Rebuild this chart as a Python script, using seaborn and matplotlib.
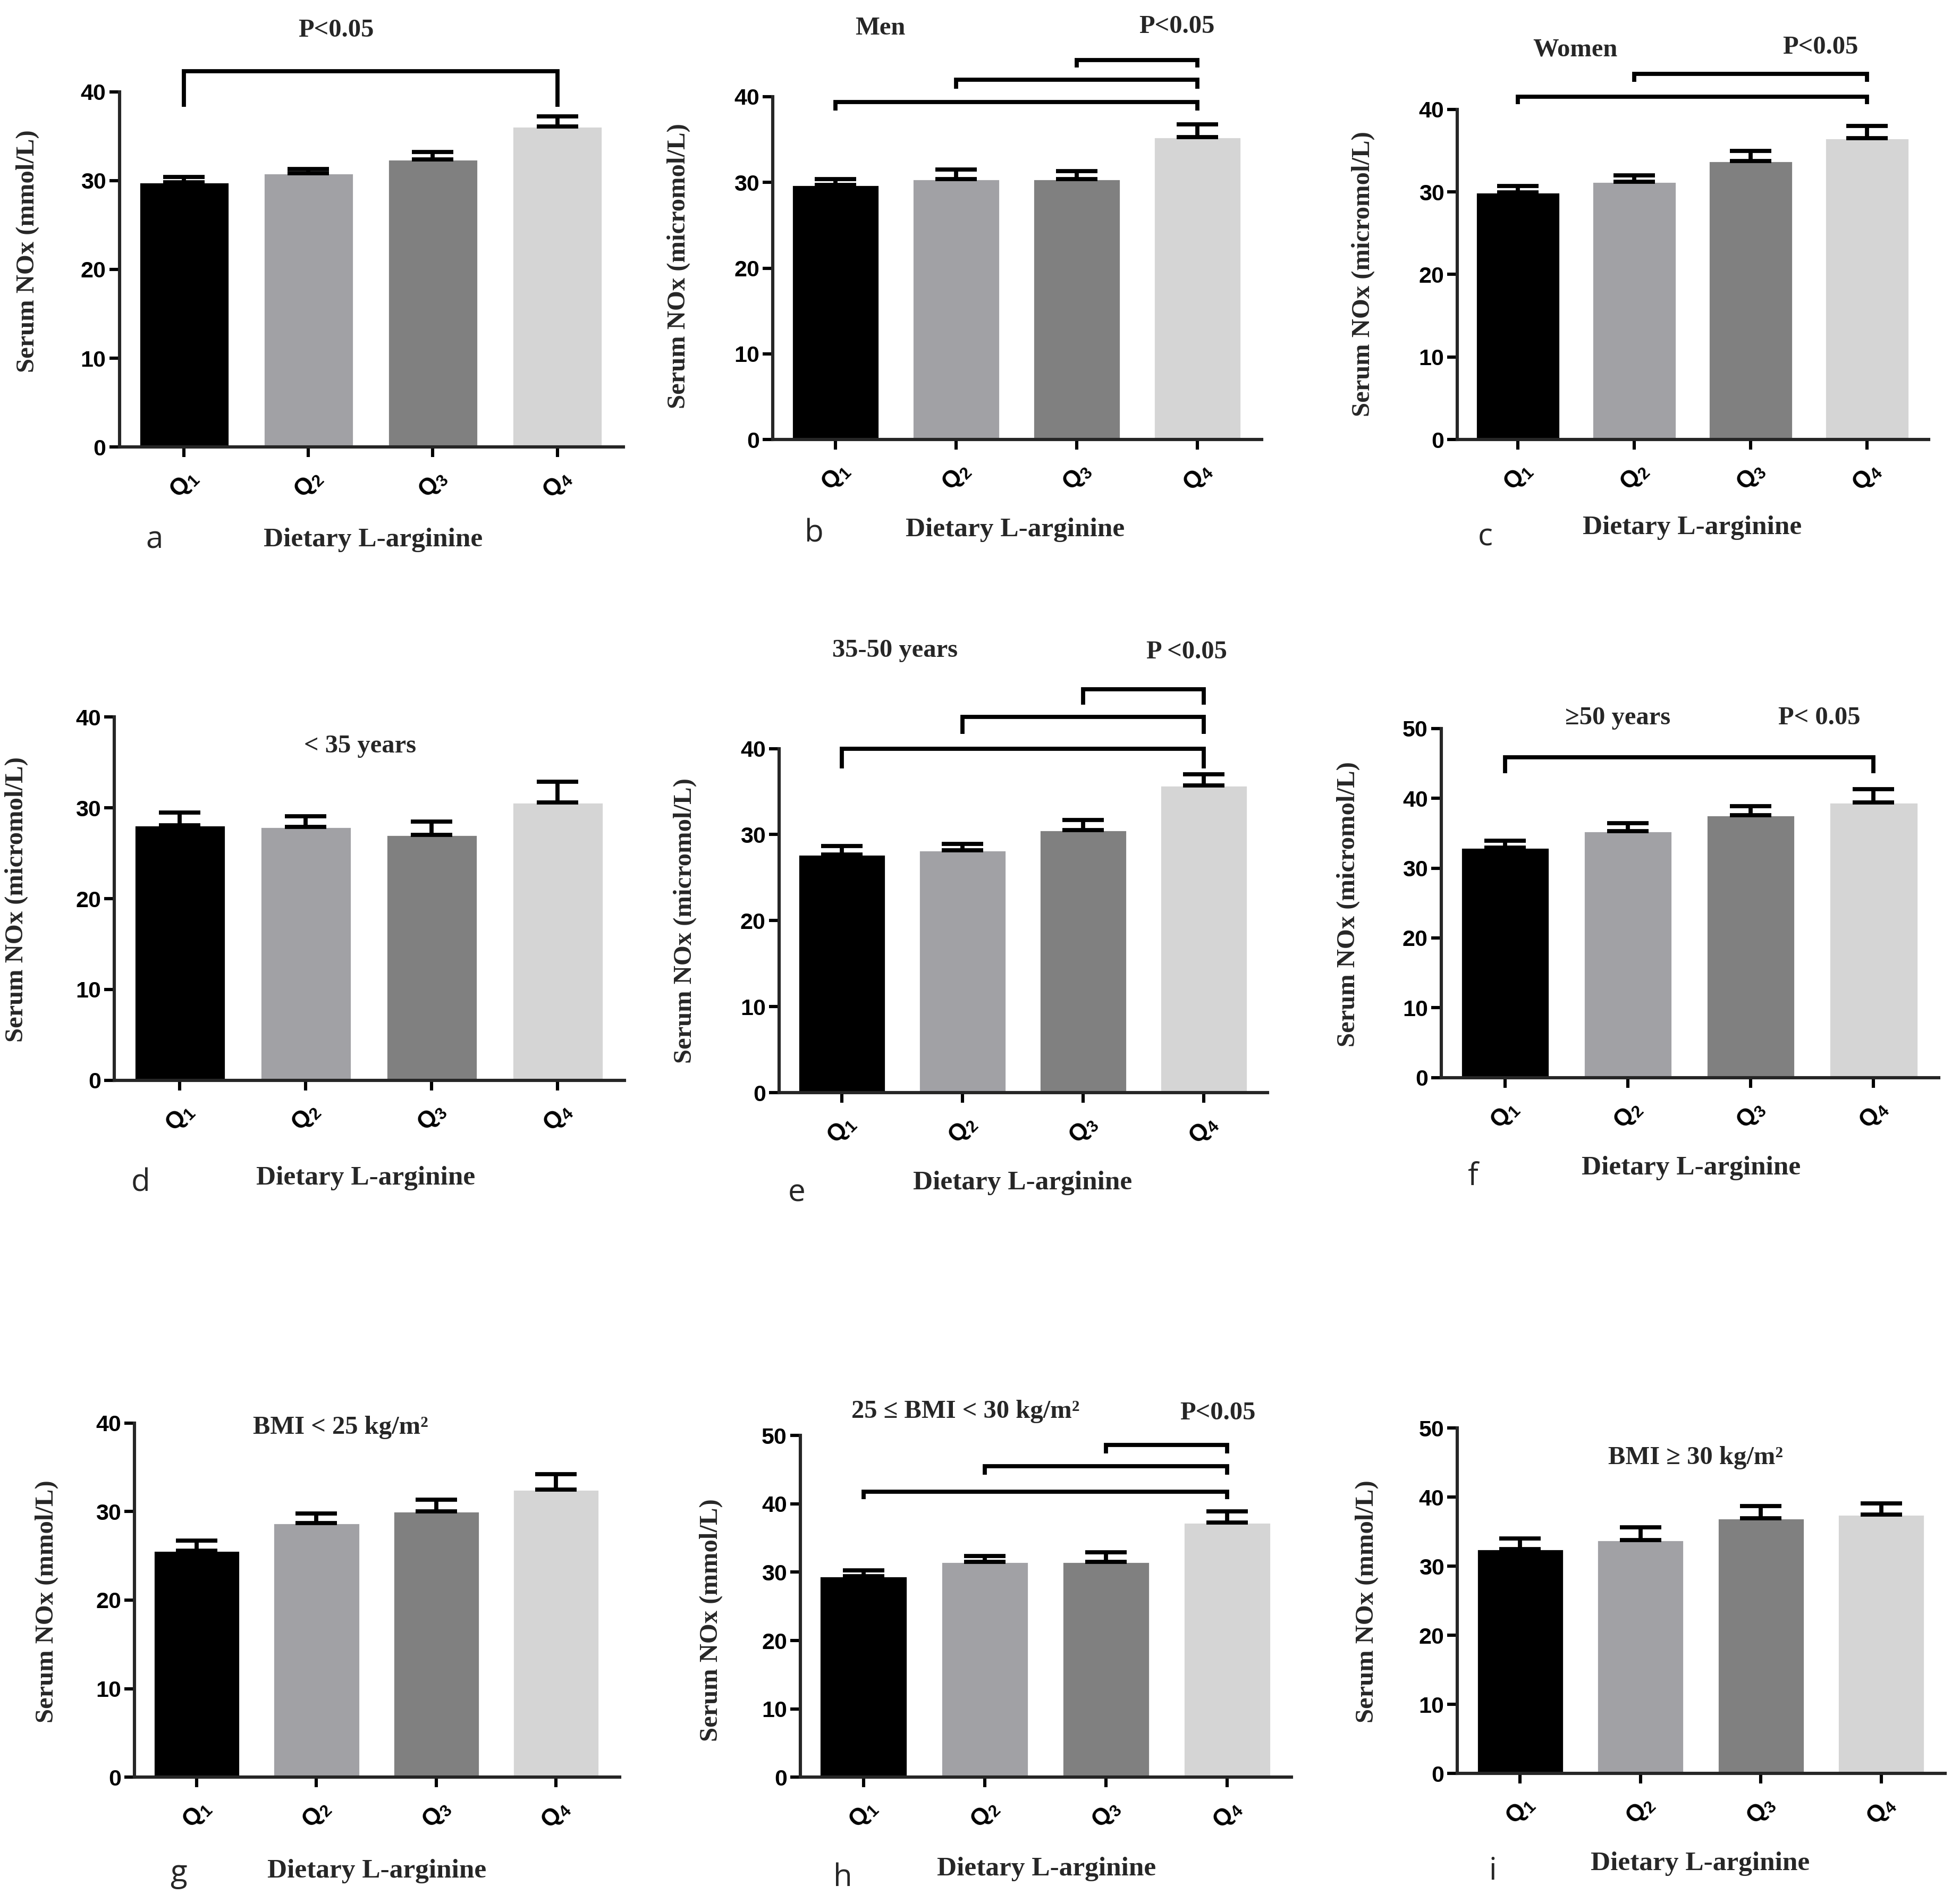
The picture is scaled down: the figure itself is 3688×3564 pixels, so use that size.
import numpy as np
import pandas as pd
import matplotlib
matplotlib.use("Agg")
import matplotlib.pyplot as plt
import seaborn as sns

# ---------------- data ----------------
quartiles = ["Q1", "Q2", "Q3", "Q4"]
quartile_ticklabels = [r"$\mathbf{Q}_{\mathbf{1}}$", r"$\mathbf{Q}_{\mathbf{2}}$",
                       r"$\mathbf{Q}_{\mathbf{3}}$", r"$\mathbf{Q}_{\mathbf{4}}$"]
bar_colors = ["#000000", "#a1a1a5", "#808080", "#d5d5d5"]

mean_a = [29.8, 30.8, 32.4, 36.1]
err_a = [0.6, 0.5, 0.8, 1.1]
mean_b = [29.7, 30.4, 30.4, 35.3]
err_b = [0.7, 1.1, 0.9, 1.5]
mean_c = [29.95, 31.25, 33.75, 36.5]
err_c = [0.75, 0.75, 1.2, 1.5]
mean_d = [28.1, 27.9, 27.0, 30.6]
err_d = [1.4, 1.15, 1.5, 2.3]
mean_e = [27.7, 28.2, 30.5, 35.7]
err_e = [1.0, 0.7, 1.2, 1.3]
mean_f = [32.9, 35.3, 37.55, 39.4]
err_f = [1.05, 1.1, 1.35, 1.9]
mean_g = [25.6, 28.7, 30.0, 32.5]
err_g = [1.1, 1.1, 1.35, 1.7]
mean_h = [29.4, 31.5, 31.5, 37.25]
err_h = [0.9, 0.9, 1.4, 1.65]
mean_i = [32.5, 33.8, 36.9, 37.5]
err_i = [1.5, 1.8, 1.8, 1.6]

ylabel_mmol = "Serum NOx (mmol/L)"
ylabel_micro = "Serum NOx (micromol/L)"
xlabel_text = "Dietary L-arginine"

# significance brackets: (left bar, right bar, bar height, leg end)
brackets_a = [(0, 3, 42.3, 38.3)]
brackets_b = [(0, 3, 39.4, 38.4), (1, 3, 42.0, 40.9), (2, 3, 44.3, 43.4)]
brackets_c = [(0, 3, 41.55, 40.6), (1, 3, 44.3, 43.3)]
brackets_e = [(0, 3, 40.0, 37.7), (1, 3, 43.7, 41.7), (2, 3, 46.9, 45.1)]
brackets_f = [(0, 3, 45.9, 43.6)]
brackets_h = [(0, 3, 41.8, 40.7), (1, 3, 45.5, 44.3), (2, 3, 48.6, 47.4)]

notes_a = [("P<0.05", 1.22, 46.9)]
notes_b = [("Men", 0.37, 48.0), ("P<0.05", 2.83, 48.2)]
notes_c = [("Women", 0.49, 47.2), ("P<0.05", 2.6, 47.5)]
notes_d = [("< 35 years", 1.43, 36.8)]
notes_e = [("35-50 years", 0.44, 51.4), ("P <0.05", 2.86, 51.2)]
notes_f = [("\u226550 years", 0.92, 51.5), ("P< 0.05", 2.56, 51.5)]
notes_g = [("BMI < 25 kg/m\u00b2", 1.2, 39.5)]
notes_h = [("25 \u2264 BMI < 30 kg/m\u00b2", 0.84, 53.5), ("P<0.05", 2.92, 53.3)]
notes_i = [("BMI \u2265 30 kg/m\u00b2", 1.46, 45.7)]

# ---------------- style ----------------
sns.set_theme(style="ticks")
plt.rcParams["font.family"] = ["Liberation Sans", "DejaVu Sans"]
plt.rcParams["mathtext.fontset"] = "custom"
plt.rcParams["mathtext.bf"] = "Liberation Sans:bold"
plt.rcParams["mathtext.rm"] = "Liberation Sans"
plt.rcParams["axes.linewidth"] = 2.2

W, H = 3688, 3564
DPI = 200
fig = plt.figure(figsize=(W / DPI, H / DPI), dpi=DPI)

DW, DH = 1560.0, 1508.0  # layout reference grid


def fx(x):
    return x / DW


def fy(y):
    return 1 - y / DH


SERIF = ["Liberation Serif", "DejaVu Serif"]

panels = [
    # letter, means, errs, ymax, ylabel, brackets, notes, axes box (l, r, top, bottom), ylabel pos, letter pos, xlabel pos
    ("a", mean_a, err_a, 40, ylabel_mmol, brackets_a, notes_a, (95, 496, 73, 356), (22, 200), (123, 430), (297, 430)),
    ("b", mean_b, err_b, 40, ylabel_micro, brackets_b, notes_b, (615, 1004, 77, 350), (540, 212), (648, 425), (808, 422)),
    ("c", mean_c, err_c, 40, ylabel_micro, brackets_c, notes_c, (1160, 1535, 87, 350), (1085, 218), (1182, 428), (1347, 420)),
    ("d", mean_d, err_d, 40, ylabel_micro, [], notes_d, (91, 497, 571, 860), (13, 716), (112, 942), (291, 938)),
    ("e", mean_e, err_e, 40, ylabel_micro, brackets_e, notes_e, (620, 1009, 596, 870), (545, 733), (634, 950), (814, 942)),
    ("f", mean_f, err_f, 50, ylabel_micro, brackets_f, notes_f, (1147, 1543, 580, 858), (1073, 720), (1172, 937), (1346, 930)),
    ("g", mean_g, err_g, 40, ylabel_mmol, [], notes_g, (107, 493, 1133, 1415), (37, 1275), (142, 1492), (300, 1490)),
    ("h", mean_h, err_h, 50, ylabel_mmol, brackets_h, notes_h, (637, 1028, 1143, 1415), (566, 1290), (671, 1495), (833, 1488)),
    ("i", mean_i, err_i, 50, ylabel_mmol, [], notes_i, (1160, 1548, 1137, 1412), (1088, 1275), (1188, 1490), (1353, 1484)),
]

for (letter, means, errs, ymax, ylab, brackets, notes, box, ylpos, lpos, xlpos) in panels:
    l, r, t, b = box
    ax = fig.add_axes([fx(l), fy(b), fx(r) - fx(l), fy(t) - fy(b)])
    df = pd.DataFrame({"quartile": quartiles, "value": means})
    sns.barplot(data=df, x="quartile", y="value", hue="quartile", palette=bar_colors,
                order=quartiles, hue_order=quartiles, legend=False, errorbar=None,
                width=0.72, saturation=1, ax=ax, zorder=2)
    ax.errorbar(np.arange(len(quartiles)), means,
                yerr=[np.zeros(len(errs)), np.array(errs)],
                fmt="none", ecolor="black", elinewidth=2.8, capsize=14, capthick=2.8,
                clip_on=False, zorder=3)
    ax.set_xlim(-0.52, 3.53)
    ax.set_ylim(0, ymax)
    ax.set_yticks(np.arange(0, ymax + 1, 10))
    ax.set_xticks(range(len(quartiles)))
    ax.set_xticklabels(quartile_ticklabels, rotation=45, ha="center", va="top")
    ax.set_xlabel("")
    ax.set_ylabel("")
    ax.tick_params(axis="both", direction="out", length=7, width=2.2, colors="black")
    ax.tick_params(axis="y", labelsize=15.5, pad=2)
    ax.tick_params(axis="x", labelsize=16, pad=6)
    for lab in ax.get_yticklabels():
        lab.set_fontweight("bold")
    sns.despine(ax=ax)
    ax.set_facecolor("white")

    for (i0, i1, yh, yl) in brackets:
        ax.plot([i0, i0, i1, i1], [yl, yh, yh, yl], color="black", lw=2.8,
                clip_on=False, solid_capstyle="butt", solid_joinstyle="miter")
    for (txt, xt, yt) in notes:
        ax.text(xt, yt, txt, ha="center", va="center", fontsize=17.5,
                fontweight="bold", family=SERIF, clip_on=False)

    fig.text(fx(ylpos[0]), fy(ylpos[1]), ylab, rotation=90, ha="center", va="center",
             fontsize=17.5, fontweight="bold", family=SERIF)
    fig.text(fx(lpos[0]), fy(lpos[1]), letter, ha="center", va="center",
             fontsize=21, family=["Open Sans", "DejaVu Sans"])
    fig.text(fx(xlpos[0]), fy(xlpos[1]), xlabel_text, ha="center", va="center",
             fontsize=18.5, fontweight="bold", family=SERIF)

fig.savefig("out.png", dpi=DPI, facecolor="white")
